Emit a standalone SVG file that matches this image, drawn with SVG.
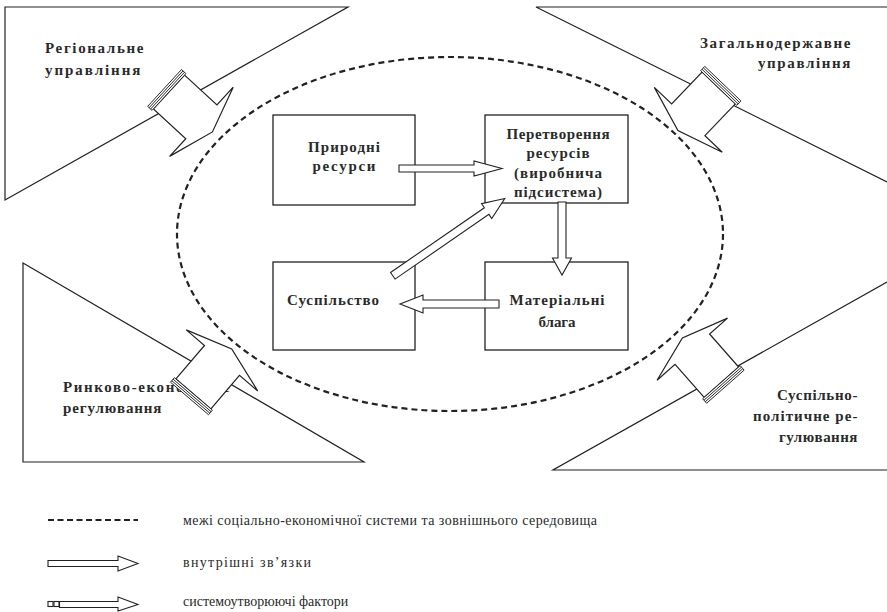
<svg xmlns="http://www.w3.org/2000/svg" width="887" height="612" viewBox="0 0 887 612">
<defs>
<style>
.tri{fill:none;stroke:#222;stroke-width:1.2}
.box{fill:#fff;stroke:#222;stroke-width:1.3}
.lbl{font-family:"Liberation Serif","Times New Roman",serif;font-weight:bold;font-size:15px;fill:#2a2a2a;letter-spacing:1.6px}
.btxt{font-family:"Liberation Serif","Times New Roman",serif;font-weight:bold;font-size:15px;fill:#2a2a2a;text-anchor:middle}
.leg{font-family:"Liberation Serif","Times New Roman",serif;font-size:14px;fill:#2a2a2a}
.arr{fill:#fff;stroke:#222;stroke-width:1.1;stroke-linejoin:miter}
.big{fill:#fff;stroke:#222;stroke-width:1.2;stroke-linejoin:miter}
.band{fill:#fff;stroke:#222;stroke-width:0.9}
.dash{fill:none;stroke:#222;stroke-width:2.2;stroke-dasharray:6 4}
</style>
<g id="factor">
<path class="big" d="M0,-23 L44,-23 L44,-47 L59,0 L44,47 L44,23 L0,23 Z"/>
<rect class="band" x="-6" y="-25" width="6" height="50"/>
<line class="band" x1="-4" y1="-25" x2="-4" y2="25"/>
<line class="band" x1="-2" y1="-25" x2="-2" y2="25"/>
</g>
</defs>
<rect width="887" height="612" fill="#fff"/>

<g id="env-regional">
<polygon class="tri" points="5,7 348,7 5,200"/>
<text class="lbl" x="45" y="53" textLength="100" lengthAdjust="spacing">Регіональне</text>
<text class="lbl" x="45" y="75" textLength="97" lengthAdjust="spacing">управління</text>
</g>
<g id="env-state">
<path class="tri" d="M887,7 L536,7 L887,182"/>
<text class="lbl" x="700" y="48" textLength="152" lengthAdjust="spacing">Загальнодержавне</text>
<text class="lbl" x="758" y="68" textLength="94" lengthAdjust="spacing">управління</text>
</g>
<g id="env-market">
<polygon class="tri" points="23,263 364,462 23,462"/>
<text class="lbl" x="63" y="392">Ринково-економічне</text>
<text class="lbl" x="63" y="413" textLength="100" lengthAdjust="spacing">регулювання</text>
</g>
<g id="env-social">
<path class="tri" d="M887,282 L553,470 L887,470"/>
<text class="lbl" x="777" y="400" textLength="82" lengthAdjust="spacing">Суспільно-</text>
<text class="lbl" x="753" y="421" textLength="106" lengthAdjust="spacing">політичне ре-</text>
<text class="lbl" x="779" y="442" textLength="80" lengthAdjust="spacing">гулювання</text>
</g>

<g id="factors">
<use href="#factor" transform="translate(169,92) rotate(42.6)"/>
<use href="#factor" transform="translate(718.7,88) rotate(133.7)"/>
<use href="#factor" transform="translate(193.4,393.9) rotate(-49.5)"/>
<use href="#factor" transform="translate(721.4,382.2) rotate(-131.4)"/>
</g>

<g id="boundary">
<ellipse class="dash" cx="450" cy="234" rx="273" ry="177"/>
</g>

<g id="n-resources">
<rect class="box" x="273" y="115" width="142" height="90"/>
<text class="btxt" x="344" y="152" textLength="72" lengthAdjust="spacing">Природні</text>
<text class="btxt" x="344" y="171" textLength="63" lengthAdjust="spacing">ресурси</text>
</g>
<g id="n-transform">
<rect class="box" x="485" y="115" width="143" height="88"/>
<text class="btxt" x="558" y="139" textLength="103" lengthAdjust="spacing">Перетворення</text>
<text class="btxt" x="558" y="158" textLength="63" lengthAdjust="spacing">ресурсів</text>
<text class="btxt" x="558" y="178" textLength="88" lengthAdjust="spacing">(виробнича</text>
<text class="btxt" x="558" y="197" textLength="88" lengthAdjust="spacing">підсистема)</text>
</g>
<g id="n-society">
<rect class="box" x="273" y="262" width="142" height="88"/>
<text class="btxt" x="333" y="305" textLength="92" lengthAdjust="spacing">Суспільство</text>
</g>
<g id="n-goods">
<rect class="box" x="485" y="262" width="143" height="88"/>
<text class="btxt" x="557" y="305" textLength="95" lengthAdjust="spacing">Матеріальні</text>
<text class="btxt" x="557" y="327" textLength="37" lengthAdjust="spacing">блага</text>
</g>

<g id="connectors">
<path class="arr" d="M399,165 L474,165 L474,161 L502,168.5 L474,176 L474,172 L399,172 Z"/>
<path class="arr" d="M558,202 L566,202 L566,258 L571.5,258 L562,275 L552.5,258 L558,258 Z"/>
<path class="arr" d="M499,300 L423,300 L423,295 L400,304 L423,313 L423,308 L499,308 Z"/>
<path class="arr" transform="translate(392.8,275.8) rotate(-34.6)" d="M0,-4 L114,-4 L114,-9 L136,0 L114,9 L114,4 L0,4 Z"/>
</g>

<g id="legend">
<line class="dash" x1="48" y1="520" x2="138" y2="520" style="stroke-width:2;stroke-dasharray:6 3.5"/>
<text class="leg" x="183" y="525" textLength="414" lengthAdjust="spacing">межі соціально-економічної системи та зовнішнього середовища</text>
<path class="arr" d="M48,560.5 L118,560.5 L118,556 L138,563.5 L118,571 L118,566.5 L48,566.5 Z"/>
<text class="leg" x="183" y="567" textLength="128" lengthAdjust="spacing">внутрішні зв’язки</text>
<rect class="arr" x="48" y="601.5" width="5" height="5"/>
<rect class="arr" x="54" y="601.5" width="5" height="5"/>
<path class="arr" d="M59.5,601.5 L118,601.5 L118,597 L138,604.5 L118,611 L118,607.5 L59.5,607.5 Z"/>
<text class="leg" x="183" y="606">системоутворюючі фактори</text>
</g>
</svg>
